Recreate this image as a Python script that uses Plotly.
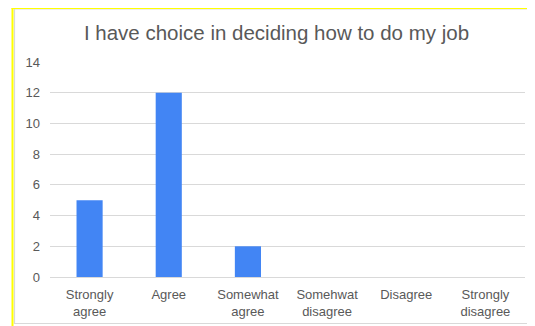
import plotly.graph_objects as go

categories = ["Strongly<br>agree", "Agree", "Somewhat<br>agree", "Somehwat<br>disagree", "Disagree", "Strongly<br>disagree"]
values = [5, 12, 2, 0, 0, 0]
y_ticks = [0, 2, 4, 6, 8, 10, 12, 14]

# page body has an 8px default margin; figure is sized to fit the window
OFF = 8
W, H = 535 - OFF, 326 - OFF
L, R, T, B = 42, 10, 54, 49
pw, ph = W - L - R, H - T - B

def px(x):
    return (x - L) / pw

def py(y):
    return (H - B - y) / ph

fig = go.Figure(go.Bar(
    x=categories, y=values,
    marker=dict(color="#4285F4", line=dict(width=0)),
))

fig.update_layout(
    width=W, height=H,
    margin=dict(l=L, r=R, t=T, b=B, autoexpand=False),
    paper_bgcolor="white", plot_bgcolor="white",
    bargap=0.67,
    showlegend=False,
    title=dict(text="I have choice in deciding how to do my job", x=268.5 / W, xref="container",
               xanchor="center", y=1 - 25 / H, yref="container", yanchor="middle",
               font=dict(family="Liberation Sans, Arial", size=20.5, color="#595959")),
    font=dict(family="Liberation Sans, Arial", size=13, color="#595959"),
    xaxis=dict(showgrid=False, showline=True, linecolor="#d9d9d9", linewidth=1, automargin=False,
               ticks="", ticklabelstandoff=5, tickfont=dict(size=13, color="#595959"), fixedrange=True),
    yaxis=dict(range=[0, 14], tickvals=y_ticks, showgrid=True, gridcolor="#d9d9d9", automargin=False,
               gridwidth=1, zeroline=False, ticks="", ticklen=0, ticklabelstandoff=9,
               tickfont=dict(size=13, color="#595959"), fixedrange=True),
    shapes=[
        dict(type="rect", xref="paper", yref="paper", x0=px(6.5), x1=px(W + 5), y0=py(0.8), y1=py(315.5),
             line=dict(color="#d9d9d9", width=1.2), fillcolor="rgba(0,0,0,0)", layer="below"),
        dict(type="line", xref="paper", yref="paper", x0=px(4.5), x1=px(4.5), y0=py(-2), y1=py(H + 5),
             line=dict(color="#ffff00", width=2)),
        dict(type="line", xref="paper", yref="paper", x0=px(3.5), x1=px(W + 5), y0=py(0), y1=py(0),
             line=dict(color="#ffff00", width=2)),
    ],
)

fig.write_html("out.html")
